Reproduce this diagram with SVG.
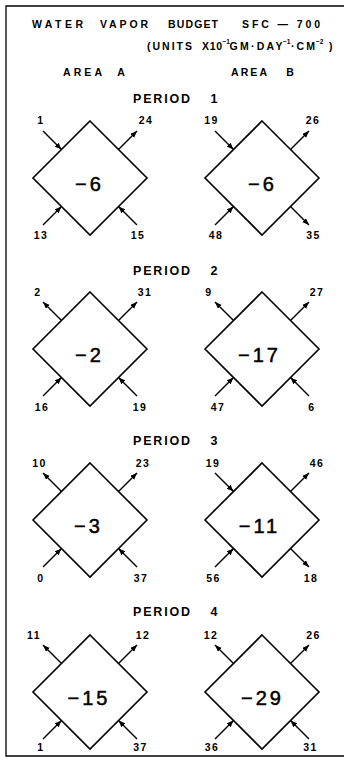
<svg xmlns="http://www.w3.org/2000/svg" width="344" height="765" viewBox="0 0 344 765">
<defs>
<marker id="ah" markerUnits="userSpaceOnUse" markerWidth="8" markerHeight="6" refX="7" refY="2.75" orient="auto">
<path d="M0,0 L7,2.75 L0,5.5 z" fill="#000"/>
</marker>
<style>
.t{font-family:"Liberation Sans",Arial,sans-serif;font-weight:bold;fill:#000}
.h{font-size:10.5px}
.s{font-size:6.5px}
.per{font-size:12.5px}
.lab{font-size:10.5px;letter-spacing:1.5px;text-anchor:middle}
.val{font-family:"Liberation Sans",Arial,sans-serif;font-size:20px;letter-spacing:3px;text-anchor:middle;fill:#000;stroke:#000;stroke-width:0.5}
.dia{fill:#fff;stroke:#000;stroke-width:1.6}
.arr{stroke:#000;stroke-width:1.5;fill:none;marker-end:url(#ah)}
.frame{fill:none;stroke:#000;stroke-width:1.3}
</style>
</defs>
<rect x="0" y="0" width="344" height="765" fill="#fff"/>
<path class="frame" d="M345,6 H6 V756 H345"/>

<g id="header">
<text class="t h" x="32" y="28" textLength="51" lengthAdjust="spacing">WATER</text>
<text class="t h" x="100" y="28" textLength="48" lengthAdjust="spacing">VAPOR</text>
<text class="t h" x="168" y="28" textLength="50" lengthAdjust="spacing">BUDGET</text>
<text class="t h" x="242" y="28" textLength="78" lengthAdjust="spacing">SFC — 700</text>
<text class="t h" x="147" y="50" textLength="45" lengthAdjust="spacing">(UNITS</text>
<text class="t h" x="202" y="50" textLength="20" lengthAdjust="spacing">X10</text>
<text class="t s" x="222.5" y="43.5">−1</text>
<text class="t h" x="229.5" y="50" textLength="53" lengthAdjust="spacing">GM·DAY</text>
<text class="t s" x="283" y="43.5">−1</text>
<text class="t h" x="291" y="50" textLength="24" lengthAdjust="spacing">·CM</text>
<text class="t s" x="316" y="43.5">−2</text>
<text class="t h" x="329" y="50">)</text>
<text class="t h" x="63" y="76" textLength="39" lengthAdjust="spacing">AREA</text>
<text class="t h" x="121" y="76" text-anchor="middle">A</text>
<text class="t h" x="231" y="76" textLength="36" lengthAdjust="spacing">AREA</text>
<text class="t h" x="290" y="76" text-anchor="middle">B</text>
</g>

<g id="period-labels">
<text class="t per" x="133" y="103" textLength="57" lengthAdjust="spacing">PERIOD</text>
<text class="t per" x="214" y="103" text-anchor="middle">1</text>
<text class="t per" x="133" y="275" textLength="57" lengthAdjust="spacing">PERIOD</text>
<text class="t per" x="214" y="275" text-anchor="middle">2</text>
<text class="t per" x="133" y="445" textLength="57" lengthAdjust="spacing">PERIOD</text>
<text class="t per" x="214" y="445" text-anchor="middle">3</text>
<text class="t per" x="133" y="616" textLength="57" lengthAdjust="spacing">PERIOD</text>
<text class="t per" x="214" y="616" text-anchor="middle">4</text>
</g>

<g id="p1a"><polygon class="dia" points="90,121 147,178 90,235 33,178"/><text class="val" x="89.5" y="191">−6</text></g>
<g id="p1b"><polygon class="dia" points="262,121 319,178 262,235 205,178"/><text class="val" x="262.5" y="191">−6</text></g>
<g id="p2a"><polygon class="dia" points="90,292 147,349 90,406 33,349"/><text class="val" x="89.5" y="362">−2</text></g>
<g id="p2b"><polygon class="dia" points="262,292 319,349 262,406 205,349"/><text class="val" x="259.5" y="362">−17</text></g>
<g id="p3a"><polygon class="dia" points="90,463 147,520 90,577 33,520"/><text class="val" x="88.5" y="533">−3</text></g>
<g id="p3b"><polygon class="dia" points="262,463 319,520 262,577 205,520"/><text class="val" x="259.5" y="533">−11</text></g>
<g id="p4a"><polygon class="dia" points="90,635 147,692 90,749 33,692"/><text class="val" x="89" y="705">−15</text></g>
<g id="p4b"><polygon class="dia" points="262,635 319,692 262,749 205,692"/><text class="val" x="262.5" y="705">−29</text></g>

<g id="connectors">
<line class="arr" x1="43" y1="131" x2="61.5" y2="149.5"/>
<line class="arr" x1="118.5" y1="149.5" x2="137" y2="131"/>
<line class="arr" x1="43" y1="225" x2="61.5" y2="206.5"/>
<line class="arr" x1="137" y1="225" x2="118.5" y2="206.5"/>

<line class="arr" x1="215" y1="131" x2="233.5" y2="149.5"/>
<line class="arr" x1="290.5" y1="149.5" x2="309" y2="131"/>
<line class="arr" x1="215" y1="225" x2="233.5" y2="206.5"/>
<line class="arr" x1="290.5" y1="206.5" x2="309" y2="225"/>

<line class="arr" x1="61.5" y1="320.5" x2="43" y2="302"/>
<line class="arr" x1="118.5" y1="320.5" x2="137" y2="302"/>
<line class="arr" x1="43" y1="396" x2="61.5" y2="377.5"/>
<line class="arr" x1="137" y1="396" x2="118.5" y2="377.5"/>

<line class="arr" x1="233.5" y1="320.5" x2="215" y2="302"/>
<line class="arr" x1="290.5" y1="320.5" x2="309" y2="302"/>
<line class="arr" x1="215" y1="396" x2="233.5" y2="377.5"/>
<line class="arr" x1="309" y1="396" x2="290.5" y2="377.5"/>

<line class="arr" x1="61.5" y1="491.5" x2="43" y2="473"/>
<line class="arr" x1="118.5" y1="491.5" x2="137" y2="473"/>
<line class="arr" x1="43" y1="567" x2="61.5" y2="548.5"/>
<line class="arr" x1="137" y1="567" x2="118.5" y2="548.5"/>

<line class="arr" x1="215" y1="473" x2="233.5" y2="491.5"/>
<line class="arr" x1="290.5" y1="491.5" x2="309" y2="473"/>
<line class="arr" x1="215" y1="567" x2="233.5" y2="548.5"/>
<line class="arr" x1="290.5" y1="548.5" x2="309" y2="567"/>

<line class="arr" x1="61.5" y1="663.5" x2="43" y2="645"/>
<line class="arr" x1="118.5" y1="663.5" x2="137" y2="645"/>
<line class="arr" x1="43" y1="739" x2="61.5" y2="720.5"/>
<line class="arr" x1="137" y1="739" x2="118.5" y2="720.5"/>

<line class="arr" x1="233.5" y1="663.5" x2="215" y2="645"/>
<line class="arr" x1="290.5" y1="663.5" x2="309" y2="645"/>
<line class="arr" x1="215" y1="739" x2="233.5" y2="720.5"/>
<line class="arr" x1="309" y1="739" x2="290.5" y2="720.5"/>
</g>

<g id="flow-labels">
<text class="t lab" x="41" y="124">1</text>
<text class="t lab" x="146" y="124">24</text>
<text class="t lab" x="41" y="239">13</text>
<text class="t lab" x="138" y="239">15</text>

<text class="t lab" x="211.5" y="124">19</text>
<text class="t lab" x="313" y="124">26</text>
<text class="t lab" x="216" y="239">48</text>
<text class="t lab" x="313.5" y="239">35</text>

<text class="t lab" x="38" y="296">2</text>
<text class="t lab" x="145" y="296">31</text>
<text class="t lab" x="42" y="411">16</text>
<text class="t lab" x="140" y="411">19</text>

<text class="t lab" x="209" y="296">9</text>
<text class="t lab" x="317" y="296">27</text>
<text class="t lab" x="218" y="411">47</text>
<text class="t lab" x="312" y="411">6</text>

<text class="t lab" x="39.5" y="467">10</text>
<text class="t lab" x="143" y="467">23</text>
<text class="t lab" x="41" y="582">0</text>
<text class="t lab" x="141" y="582">37</text>

<text class="t lab" x="213" y="467">19</text>
<text class="t lab" x="317" y="467">46</text>
<text class="t lab" x="213.5" y="582">56</text>
<text class="t lab" x="311" y="582">18</text>

<text class="t lab" x="34" y="639">11</text>
<text class="t lab" x="143" y="639">12</text>
<text class="t lab" x="41" y="751">1</text>
<text class="t lab" x="140.5" y="751">37</text>

<text class="t lab" x="211" y="639">12</text>
<text class="t lab" x="313.5" y="639">26</text>
<text class="t lab" x="212" y="751">36</text>
<text class="t lab" x="310.5" y="751">31</text>
</g>
</svg>
